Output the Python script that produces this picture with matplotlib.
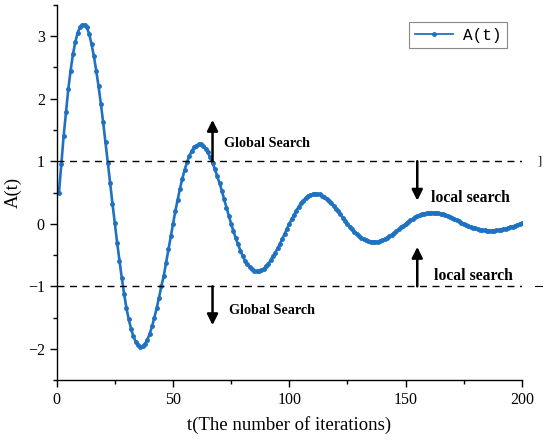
import matplotlib
matplotlib.use("Agg")
import matplotlib.pyplot as plt
import numpy as np

# iterations 1..200 and the values
t = np.arange(1, 201)
A = [
    0.50, 0.96, 1.40, 1.78, 2.15, 2.45, 2.71, 2.90, 3.05, 3.14,
    3.18, 3.18, 3.14, 3.03, 2.87, 2.68, 2.45, 2.20, 1.92, 1.62,
    1.30, 0.97, 0.65, 0.32, 0.01, -0.30, -0.59, -0.87, -1.12, -1.35,
    -1.53, -1.68, -1.80, -1.89, -1.94, -1.97, -1.96, -1.92, -1.85, -1.76,
    -1.64, -1.50, -1.35, -1.18, -1.00, -0.84, -0.63, -0.41, -0.20, 0.00,
    0.20, 0.38, 0.56, 0.72, 0.86, 0.98, 1.08, 1.16, 1.22, 1.25,
    1.27, 1.27, 1.24, 1.20, 1.14, 1.06, 0.97, 0.88, 0.76, 0.65,
    0.53, 0.39, 0.26, 0.13, 0.00, -0.12, -0.23, -0.33, -0.43, -0.52,
    -0.59, -0.65, -0.69, -0.73, -0.75, -0.76, -0.76, -0.74, -0.72, -0.68,
    -0.64, -0.58, -0.52, -0.46, -0.39, -0.32, -0.24, -0.16, -0.08, 0.00,
    0.07, 0.14, 0.21, 0.27, 0.33, 0.37, 0.41, 0.44, 0.46, 0.47,
    0.48, 0.48, 0.47, 0.45, 0.43, 0.40, 0.37, 0.33, 0.29, 0.24,
    0.20, 0.15, 0.10, 0.05, 0.00, -0.045, -0.087, -0.128, -0.164, -0.197,
    -0.225, -0.247, -0.265, -0.278, -0.286, -0.290, -0.289, -0.284, -0.274, -0.260,
    -0.243, -0.222, -0.200, -0.174, -0.147, -0.120, -0.090, -0.059, -0.029, 0.000,
    0.028, 0.054, 0.079, 0.102, 0.122, 0.140, 0.154, 0.164, 0.173, 0.177,
    0.180, 0.179, 0.176, 0.170, 0.162, 0.151, 0.138, 0.124, 0.108, 0.091,
    0.075, 0.056, 0.037, 0.018, 0.000, -0.017, -0.033, -0.048, -0.062, -0.075,
    -0.085, -0.094, -0.100, -0.105, -0.108, -0.110, -0.110, -0.108, -0.104, -0.099,
    -0.092, -0.084, -0.076, -0.066, -0.056, -0.045, -0.030, -0.015, 0.000, 0.015,
]

levels = [1, -1]

plt.rcParams["font.family"] = ["Liberation Serif", "DejaVu Serif"]

fig = plt.figure(figsize=(5.5, 4.4), dpi=100)
ax = fig.add_axes([0.103, 0.136, 0.846, 0.853])

ax.plot(t, A, color="#1f72c1", lw=1.9, marker="o", ms=2.5, label="A(t)")

for lv in levels:
    ax.plot([0, 200], [lv, lv], ls=(0, (5, 4)), color="black", lw=1.0)
# stray marks at the right edge
ax.text(207.5, 1, "]", ha="center", va="center", fontsize=9, clip_on=False)
ax.plot([205.5, 208.5], [-1, -1], color="black", lw=0.8, clip_on=False)

arr = dict(arrowstyle="-|>", lw=1.8, color="black", mutation_scale=16,
           shrinkA=0, shrinkB=0)
ax.annotate("", xy=(67, 1.66), xytext=(67, 1.0), arrowprops=arr)
ax.annotate("", xy=(67, -1.62), xytext=(67, -1.0), arrowprops=arr)
ax.annotate("", xy=(155, 0.37), xytext=(155, 1.0), arrowprops=arr)
ax.annotate("", xy=(155, -0.37), xytext=(155, -1.0), arrowprops=arr)

ax.text(72, 1.29, "Global Search", fontsize=10.2, fontweight="bold", va="center")
ax.text(74, -1.38, "Global Search", fontsize=10.2, fontweight="bold", va="center")
ax.text(161, 0.41, "local search", fontsize=11.3, fontweight="bold", va="center")
ax.text(162, -0.83, "local search", fontsize=11.3, fontweight="bold", va="center")

ax.set_xlim(0, 200)
ax.set_ylim(-2.5, 3.5)
ax.set_xticks([0, 50, 100, 150, 200])
ax.set_xticks([25, 75, 125, 175], minor=True)
ax.set_yticks([-2, -1, 0, 1, 2, 3])
ax.set_yticks(np.arange(-2.5, 3.6, 1.0), minor=True)
ax.set_yticklabels(["\u22122", "\u22121", "0", "1", "2", "3"])
ax.tick_params(which="major", direction="out", length=5, width=1.0, labelsize=11.5)
ax.tick_params(which="minor", direction="out", length=3, width=1.0)
for s in ["top", "right"]:
    ax.spines[s].set_visible(False)
for s in ["left", "bottom"]:
    ax.spines[s].set_linewidth(1.0)

ax.set_xlabel("t(The number of iterations)", fontsize=13.5, labelpad=6)
ax.set_ylabel("A(t)", fontsize=13.5, labelpad=4)

leg = ax.legend(loc="upper right", bbox_to_anchor=(0.985, 0.975), fancybox=False,
                edgecolor="#888888", framealpha=1, handlelength=2.4,
                handletextpad=0.6, borderpad=0.35,
                prop={"family": "Liberation Mono", "size": 11.5})
leg.get_frame().set_linewidth(0.8)
for h in leg.get_lines():
    h.set_linewidth(1.3)

fig.savefig("out.png", dpi=100)
plt.close(fig)
